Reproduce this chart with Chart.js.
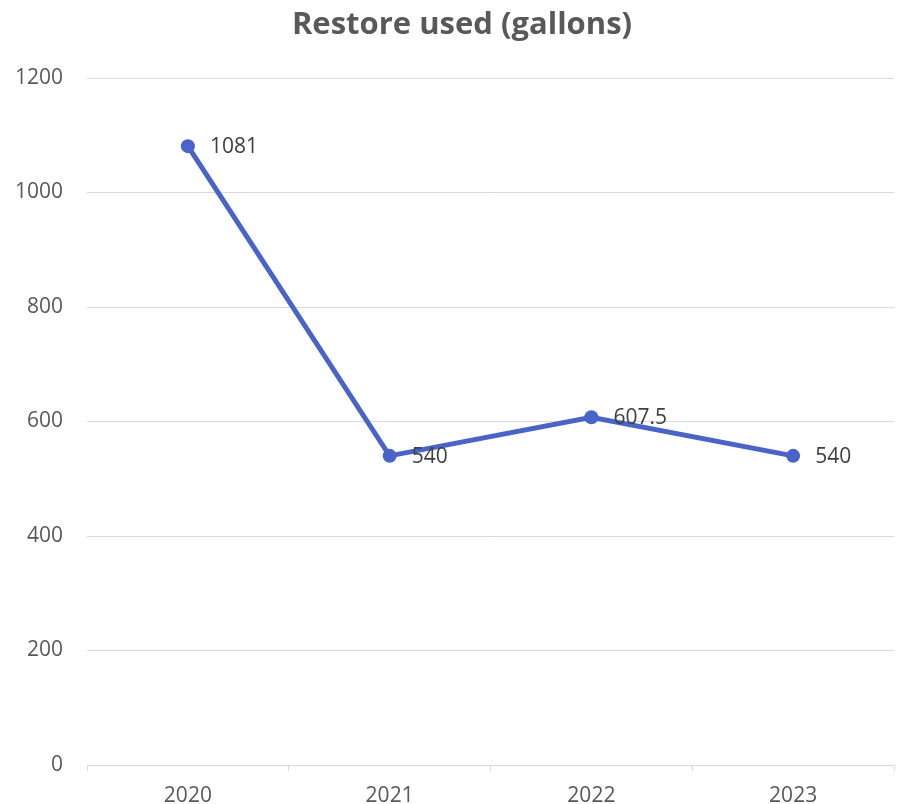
<!DOCTYPE html>
<html>
<head>
<meta charset="utf-8">
<title>Restore used (gallons)</title>
<script src="https://cdn.jsdelivr.net/npm/chart.js@4/dist/chart.umd.min.js"></script>
<style>
  html, body { margin: 0; padding: 0; background: #ffffff; }
  #wrap { width: 901px; height: 804px; }
</style>
</head>
<body>
<div id="wrap"><canvas id="restoreChart" width="901" height="804"></canvas></div>
<script>
const years = ["2020", "2021", "2022", "2023"];
const gallons = [1081, 540, 607.5, 540];
const yTicks = [0, 200, 400, 600, 800, 1000, 1200];

const titleText = "Restore used (gallons)";
const lineColor = "#4a63c8";
const textGray = "#595959";

// writes each point's value just to the right of the marker
const valueLabels = {
    id: "valueLabels",
    afterDatasetsDraw(chart){
        const ctx = chart.ctx;
        const meta = chart.getDatasetMeta(0);
        ctx.save();
        ctx.font = "21px 'Open Sans'";
        ctx.fillStyle = "#404040";
        ctx.textAlign = "left";
        ctx.textBaseline = "middle";
        meta.data.forEach(function(pt, i){
            ctx.fillText(String(gallons[i]), pt.x + 22, pt.y + 1);
        });
        ctx.restore();
    }
};

// heading sits a little right of the canvas middle, over the plot
const heading = {
    id: "heading",
    afterDraw(chart){
        const ctx = chart.ctx;
        ctx.save();
        ctx.font = "bold 31px 'Open Sans'";
        ctx.fillStyle = textGray;
        ctx.textAlign = "center";
        ctx.textBaseline = "middle";
        ctx.fillText(titleText, 462, 25);
        ctx.restore();
    }
};

const ctx = document.getElementById("restoreChart").getContext("2d");

new Chart(ctx, {
    type: "line",
    data: {
        labels: years,
        datasets: [{
            label: titleText,
            data: gallons,
            borderColor: lineColor,
            backgroundColor: lineColor,
            borderWidth: 5,
            pointRadius: 7,
            pointHoverRadius: 7,
            pointBorderWidth: 0,
            tension: 0
        }]
    },
    options: {
        responsive: false,
        animation: false,
        layout: {
            padding: { top: 78, left: 0, right: 5, bottom: 0 }
        },
        plugins: {
            legend: { display: false },
            tooltip: { enabled: false },
            title: { display: false }
        },
        scales: {
            x: {
                offset: true,
                grid: {
                    offset: true,
                    drawOnChartArea: false,
                    drawTicks: true,
                    tickLength: 6,
                    color: "#d9d9d9"
                },
                border: { display: true, color: "#d9d9d9", width: 1 },
                ticks: {
                    color: textGray,
                    font: { family: "'Open Sans'", size: 21 },
                    padding: 12
                },
                afterFit(scale){
                    scale.height = 39;
                }
            },
            y: {
                min: 0,
                max: 1200,
                afterBuildTicks(scale){
                    scale.ticks = yTicks.map(v => ({ value: v }));
                },
                grid: {
                    color: "#d9d9d9",
                    drawTicks: false
                },
                border: { display: false },
                ticks: {
                    color: textGray,
                    font: { family: "'Open Sans'", size: 21 },
                    padding: 24,
                    callback: function(value){
                        return String(value);
                    }
                },
                afterFit(scale){
                    scale.width = 87;
                }
            }
        }
    },
    plugins: [valueLabels, heading]
});
</script>
</body>
</html>
